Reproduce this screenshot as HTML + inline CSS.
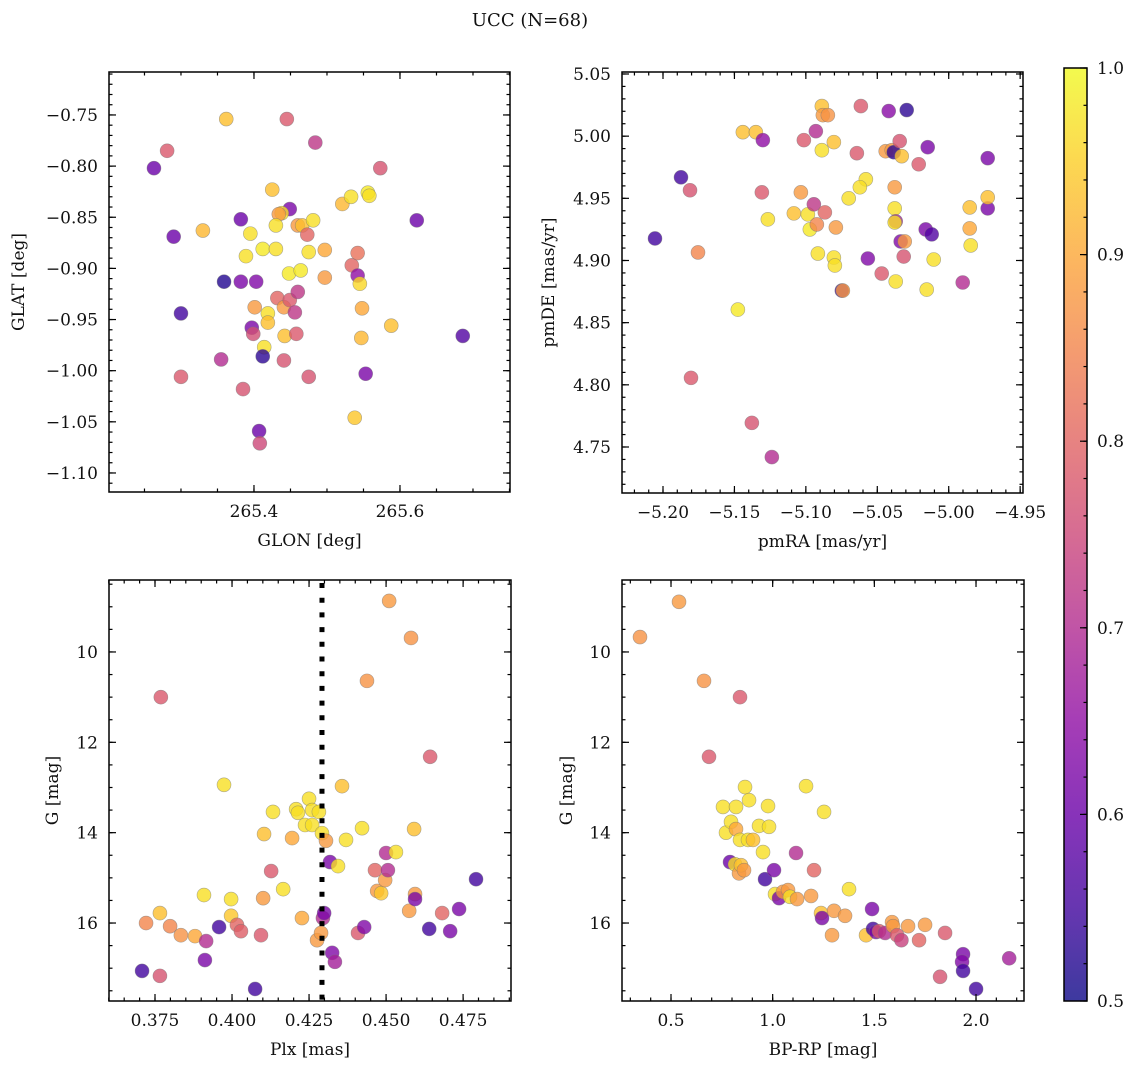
<!DOCTYPE html>
<html><head><meta charset="utf-8"><title>UCC (N=68)</title>
<style>
html,body{margin:0;padding:0;background:#fff;}
svg text{font-family:"DejaVu Serif","Liberation Serif",serif;fill:#111;}
</style></head>
<body>
<svg id="fig" width="1136" height="1068" viewBox="0 0 1136 1068" xmlns="http://www.w3.org/2000/svg">
<text x="530" y="26" font-size="18" text-anchor="middle">UCC (N=68)</text>
</svg>
<script>
// ---- Panel 1: GLON vs GLAT ----
const glon = [265.263,265.281,265.362,265.445,265.484,265.290,265.330,265.382,265.425,265.449,265.438,265.434,265.395,265.412,265.430,265.430,265.460,265.466,265.481,265.473,265.475,265.448,265.464,265.497,265.389,265.359,265.382,265.403,265.300,265.401,265.419,265.419,265.432,265.441,265.449,265.460,265.456,265.442,265.458,265.397,265.399,265.414,265.412,265.355,265.441,265.300,265.385,265.407,265.408,265.475,265.497,265.534,265.542,265.542,265.545,265.548,265.547,265.553,265.538,265.521,265.533,265.556,265.573,265.623,265.588,265.686,265.558];
const glat = [-0.802,-0.785,-0.754,-0.754,-0.777,-0.869,-0.863,-0.852,-0.823,-0.842,-0.846,-0.847,-0.866,-0.881,-0.881,-0.858,-0.858,-0.858,-0.853,-0.867,-0.884,-0.905,-0.902,-0.909,-0.888,-0.913,-0.913,-0.913,-0.944,-0.938,-0.944,-0.953,-0.929,-0.938,-0.931,-0.923,-0.943,-0.966,-0.964,-0.958,-0.964,-0.977,-0.986,-0.989,-0.990,-1.006,-1.018,-1.059,-1.071,-1.006,-0.882,-0.897,-0.885,-0.907,-0.915,-0.939,-0.968,-1.003,-1.046,-0.837,-0.830,-0.826,-0.802,-0.853,-0.956,-0.966,-0.829];
const prob1 = [0.6,0.78,0.93,0.78,0.72,0.6,0.92,0.6,0.93,0.62,0.97,0.88,0.97,0.98,0.97,0.97,0.88,0.93,0.97,0.8,0.97,0.98,0.98,0.88,0.97,0.52,0.62,0.63,0.55,0.88,0.97,0.93,0.8,0.88,0.78,0.72,0.72,0.93,0.78,0.62,0.76,0.97,0.53,0.7,0.77,0.78,0.77,0.6,0.75,0.77,0.9,0.8,0.82,0.65,0.96,0.9,0.92,0.62,0.94,0.92,0.97,0.98,0.77,0.6,0.93,0.57,0.97];

// ---- Panel 2: pmRA vs pmDE ----
const pmra = [-5.2056,-5.1874,-5.1755,-5.1811,-5.1804,-5.1476,-5.1441,-5.135,-5.1301,-5.1308,-5.1266,-5.1378,-5.1238,-5.1084,-5.1035,-5.1014,-5.0986,-5.0972,-5.0944,-5.0923,-5.093,-5.0916,-5.0888,-5.0881,-5.0846,-5.0867,-5.0888,-5.0804,-5.079,-5.0804,-5.0797,-5.0748,-5.0741,-5.07,-5.0615,-5.0643,-5.058,-5.0622,-5.0566,-5.0469,-5.042,-5.0441,-5.0399,-5.0385,-5.0378,-5.0378,-5.0371,-5.0378,-5.0371,-5.0343,-5.0329,-5.0336,-5.0308,-5.0315,-5.0294,-5.021,-5.0161,-5.0147,-5.0154,-5.0119,-5.0105,-4.9902,-4.9853,-4.9853,-4.9846,-4.9727,-4.9727,-4.9727];
const pmde = [4.9177,4.9669,4.9065,4.9565,4.8056,4.8605,5.0032,5.0032,4.9968,4.9548,4.9331,4.7694,4.7419,4.9379,4.9548,4.9968,4.9371,4.925,4.9452,4.929,5.004,4.9056,5.0242,5.0169,5.0169,4.9387,4.9887,4.9952,4.9266,4.9024,4.896,4.8758,4.8758,4.95,5.0242,4.9863,4.9653,4.9589,4.9016,4.8895,5.0202,4.9879,4.9887,4.9871,4.9589,4.9419,4.9315,4.9306,4.8831,4.996,4.9839,4.9153,4.9153,4.9032,5.021,4.9774,4.925,4.9911,4.8766,4.921,4.9008,4.8823,4.9258,4.9427,4.9121,4.9823,4.9419,4.9508];
const prob2 = [0.55,0.55,0.85,0.77,0.78,0.98,0.93,0.93,0.65,0.78,0.97,0.77,0.7,0.93,0.88,0.78,0.97,0.98,0.72,0.85,0.7,0.97,0.93,0.88,0.87,0.8,0.97,0.93,0.88,0.97,0.97,0.55,0.88,0.97,0.78,0.78,0.97,0.97,0.63,0.78,0.64,0.88,0.88,0.53,0.88,0.97,0.68,0.97,0.97,0.77,0.93,0.63,0.88,0.77,0.53,0.78,0.62,0.62,0.97,0.57,0.97,0.7,0.9,0.93,0.97,0.62,0.62,0.93];

// ---- Panel 3: Plx vs G ----
const plx = [0.3708,0.3721,0.3766,0.3766,0.3769,0.3799,0.3834,0.388,0.3909,0.3916,0.3912,0.3958,0.3974,0.3997,0.3997,0.4016,0.4029,0.4075,0.4094,0.4101,0.4104,0.4127,0.4133,0.4166,0.4195,0.4208,0.4214,0.4227,0.4237,0.425,0.426,0.426,0.4282,0.4276,0.4289,0.4292,0.4295,0.4299,0.4305,0.4318,0.4325,0.4334,0.4344,0.4357,0.437,0.4409,0.4422,0.4429,0.4438,0.4464,0.4471,0.4484,0.4497,0.45,0.451,0.4506,0.4532,0.4575,0.4581,0.4591,0.4594,0.4594,0.464,0.4643,0.4682,0.4708,0.4737,0.4792];
const gmag3 = [17.06,16.0,15.78,17.17,11.0,16.07,16.27,16.29,15.38,16.4,16.82,16.09,12.94,15.47,15.84,16.04,16.18,17.46,16.27,15.45,14.03,14.85,13.54,15.25,14.12,13.48,13.56,15.89,13.83,13.25,13.5,13.83,13.54,16.38,16.22,14.01,15.89,15.78,14.18,14.65,16.66,16.86,14.74,12.97,14.16,16.22,13.9,16.09,10.64,14.83,15.29,15.34,15.05,14.45,8.87,14.83,14.43,15.73,9.69,13.92,15.36,15.47,16.13,12.32,15.78,16.18,15.69,15.03];
const prob3 = [0.55,0.85,0.93,0.77,0.78,0.85,0.87,0.9,0.97,0.7,0.62,0.55,0.97,0.97,0.94,0.8,0.79,0.55,0.78,0.88,0.93,0.78,0.97,0.97,0.9,0.97,0.97,0.9,0.97,0.97,0.97,0.97,0.97,0.88,0.88,0.97,0.7,0.62,0.88,0.62,0.63,0.68,0.97,0.93,0.97,0.78,0.97,0.63,0.87,0.8,0.88,0.94,0.88,0.7,0.88,0.7,0.97,0.88,0.87,0.93,0.88,0.62,0.55,0.78,0.8,0.62,0.62,0.55];
const plxRef = [0.4292];

// ---- Panel 4: BP-RP vs G ----
const bprp = [0.3475,0.5394,0.6623,0.6869,0.8394,0.7558,0.7705,0.7902,0.7951,0.8197,0.8197,0.8394,0.8148,0.8345,0.8443,0.8591,0.864,0.8837,0.8788,0.9033,0.9329,0.9525,0.9624,0.9771,0.982,1.0066,1.0116,1.0312,1.0509,1.0755,1.0853,1.1198,1.1149,1.164,1.1888,1.2034,1.2378,1.2526,1.2427,1.2919,1.3018,1.3559,1.3755,1.4592,1.4887,1.4936,1.5084,1.5231,1.5526,1.587,1.592,1.6116,1.6331,1.6658,1.7199,1.7494,1.8232,1.8478,1.9363,1.9314,1.9363,2.0003,2.1631];
const gmag4 = [9.67,8.89,10.64,12.32,11.0,13.43,14.0,14.65,13.76,13.43,13.92,14.16,14.7,14.9,14.72,14.83,12.99,13.28,14.16,14.16,13.85,14.43,15.03,13.41,13.87,14.83,15.36,15.45,15.31,15.27,15.42,15.47,14.45,12.97,15.4,14.83,15.78,13.54,15.89,16.27,15.73,15.84,15.25,16.27,15.69,16.13,16.2,16.18,16.22,15.98,16.07,16.27,16.38,16.07,16.38,16.04,17.19,16.22,16.69,16.86,17.06,17.46,16.78];
const prob4 = [0.87,0.88,0.87,0.78,0.78,0.97,0.97,0.6,0.97,0.97,0.9,0.97,0.97,0.88,0.93,0.88,0.97,0.97,0.97,0.93,0.97,0.97,0.55,0.97,0.97,0.62,0.97,0.62,0.88,0.88,0.97,0.88,0.7,0.97,0.88,0.8,0.93,0.97,0.62,0.88,0.88,0.88,0.97,0.93,0.62,0.55,0.62,0.78,0.7,0.88,0.88,0.78,0.74,0.88,0.8,0.88,0.77,0.78,0.62,0.63,0.55,0.55,0.68];

// ---- Colorbar ----
const cbTicks = [0.5,0.6,0.7,0.8,0.9,1.0];

const NS = "http://www.w3.org/2000/svg";
const svg = document.getElementById('fig');
function el(tag, attrs, parent){
  const e = document.createElementNS(NS, tag);
  for (const k in attrs) e.setAttribute(k, attrs[k]);
  (parent||svg).appendChild(e);
  return e;
}
const plasma = [[13,8,135],[65,4,157],[106,0,168],[143,13,164],[177,42,144],[204,71,120],[225,100,98],[242,132,75],[252,166,54],[252,206,37],[240,249,33]];
function cmap(v){
  let t = (v-0.5)/0.5; t = Math.max(0, Math.min(1, t));
  const f = t*10, i = Math.min(9, Math.floor(f)), r = f-i;
  const a = plasma[i], b = plasma[i+1];
  return 'rgb('+[0,1,2].map(k=>Math.round(a[k]+(b[k]-a[k])*r)).join(',')+')';
}
function fmt(v, d){ const s = Math.abs(v).toFixed(d); return (v < -1e-9 ? '\u2212' : '') + s; }
function range(a, b, s){ const out=[]; const n=Math.round((b-a)/s); for(let i=0;i<=n;i++) out.push(+(a+i*s).toFixed(6)); return out; }

function panel(cfg){
  const g = el('g', {});
  
  
  const {x0,x1,y0,y1} = cfg.box;
  const sx = v => x0 + (v-cfg.xd[0])/(cfg.xd[1]-cfg.xd[0])*(x1-x0);
  const sy = v => cfg.yinv ? y0 + (v-cfg.yd[0])/(cfg.yd[1]-cfg.yd[0])*(y1-y0)
                           : y1 - (v-cfg.yd[0])/(cfg.yd[1]-cfg.yd[0])*(y1-y0);
  const inX = v => { const p=sx(v); return p>=x0-0.5 && p<=x1+0.5; };
  const inY = v => { const p=sy(v); return p>=y0-0.5 && p<=y1+0.5; };
  // points
  const pts = el('g', {}, g);
  
  
  for (let i=0;i<cfg.xs.length;i++){
    const c = el('circle', {cx:sx(cfg.xs[i]), cy:sy(cfg.ys[i]), r:7, fill:cmap(cfg.cs[i]), 'fill-opacity':0.8, stroke:'#777', 'stroke-opacity':0.6, 'stroke-width':0.6}, pts);
    
    
  }
  if (cfg.vline){
    for (const v of cfg.vline){
      const l = el('line', {x1:sx(v), x2:sx(v), y1:y0, y2:y1, stroke:'#000', 'stroke-width':5, 'stroke-dasharray':'5 9.7', 'stroke-dashoffset':-3}, g);
      
      
    }
  }
  // ticks
  const tk = el('g', {stroke:'#000', 'stroke-width':1.2}, g);
  
  
  for (const v of cfg.xminor) if (inX(v)){ const p=sx(v);
    el('line',{x1:p,x2:p,y1:y1,y2:y1-3.5},tk); el('line',{x1:p,x2:p,y1:y0,y2:y0+3.5},tk); }
  for (const v of cfg.xmajor) if (inX(v)){ const p=sx(v);
    el('line',{x1:p,x2:p,y1:y1,y2:y1-7},tk); el('line',{x1:p,x2:p,y1:y0,y2:y0+7},tk); }
  for (const v of cfg.yminor) if (inY(v)){ const p=sy(v);
    el('line',{x1:x0,x2:x0+3.5,y1:p,y2:p},tk); el('line',{x1:x1,x2:x1-3.5,y1:p,y2:p},tk); }
  for (const v of cfg.ymajor) if (inY(v)){ const p=sy(v);
    el('line',{x1:x0,x2:x0+7,y1:p,y2:p},tk); el('line',{x1:x1,x2:x1-7,y1:p,y2:p},tk); }
  // tick labels
  for (const v of cfg.xlabels) if (inX(v)){
    const t = el('text',{x:sx(v), y:y1+25, 'font-size':17, 'text-anchor':'middle'}, g);
    t.textContent = fmt(v, cfg.xdec);
    
    
  }
  for (const v of cfg.ymajor) if (inY(v)){
    const t = el('text',{x:x0-11, y:sy(v)+6, 'font-size':17, 'text-anchor':'end'}, g);
    t.textContent = fmt(v, cfg.ydec);
    
    
  }
  const xt = el('text',{x:(x0+x1)/2, y:y1+54, 'font-size':17, 'text-anchor':'middle'}, g);
  xt.textContent = cfg.xlabel;
  
  
  const yt = el('text',{x:0, y:0, 'font-size':17, 'text-anchor':'middle', transform:'translate('+cfg.ylx+','+((y0+y1)/2)+') rotate(-90)'}, g);
  yt.textContent = cfg.ylabel;
  
  
  const fr = el('rect',{x:x0, y:y0, width:x1-x0, height:y1-y0, fill:'none', stroke:'#000', 'stroke-width':1.5}, g);
  
  
}

panel({name:'glon-glat-panel', box:{x0:109,x1:510,y0:72,y1:492},
  xd:[265.2014,265.7507], yd:[-1.1186,-0.708], yinv:false,
  xs:glon, ys:glat, cs:prob1,
  xmajor:[265.4,265.6], xlabels:[265.4,265.6], xminor:range(265.2,265.75,0.05), xdec:1,
  ymajor:range(-1.10,-0.75,0.05), yminor:range(-1.12,-0.70,0.01), ydec:2,
  xlabel:'GLON [deg]', ylabel:'GLAT [deg]', ylx:24});

panel({name:'pm-panel', box:{x0:622,x1:1023,y0:72,y1:493},
  xd:[-5.2287,-4.948], yd:[4.713,5.0516], yinv:false,
  xs:pmra, ys:pmde, cs:prob2,
  xmajor:range(-5.20,-4.95,0.05), xlabels:range(-5.20,-4.95,0.05), xminor:range(-5.23,-4.95,0.01), xdec:2,
  ymajor:range(4.75,5.05,0.05), yminor:range(4.71,5.05,0.01), ydec:2,
  xlabel:'pmRA [mas/yr]', ylabel:'pmDE [mas/yr]', ylx:554});

panel({name:'plx-g-panel', box:{x0:109,x1:511,y0:580,y1:1001},
  xd:[0.36007,0.49055], yd:[8.407,17.726], yinv:true,
  xs:plx, ys:gmag3, cs:prob3, vline:plxRef,
  xmajor:range(0.375,0.475,0.025), xlabels:range(0.375,0.475,0.025), xminor:range(0.36,0.49,0.005), xdec:3,
  ymajor:range(10,16,2), yminor:range(8.5,17.5,0.5), ydec:0,
  xlabel:'Plx [mas]', ylabel:'G [mag]', ylx:58});

panel({name:'cmd-panel', box:{x0:622,x1:1024,y0:580,y1:1001},
  xd:[0.259,2.236], yd:[8.407,17.726], yinv:true,
  xs:bprp, ys:gmag4, cs:prob4,
  xmajor:range(0.5,2.0,0.5), xlabels:range(0.5,2.0,0.5), xminor:range(0.3,2.2,0.1), xdec:1,
  ymajor:range(10,16,2), yminor:range(8.5,17.5,0.5), ydec:0,
  xlabel:'BP-RP [mag]', ylabel:'G [mag]', ylx:572});

// colorbar
(function(){
  const x0=1064, x1=1087, y0=68, y1=1001;
  const cb = el('g', {});
  
  
  const defs = el('defs', {}, cb);
  const lg = el('linearGradient', {id:'cbg', x1:0, y1:1, x2:0, y2:0}, defs);
  for (let i=0;i<=50;i++){ el('stop', {offset:(i/50), 'stop-color':cmap(0.5+0.5*i/50)}, lg); }
  const r = el('rect', {x:x0, y:y0, width:x1-x0, height:y1-y0, fill:'url(#cbg)', 'fill-opacity':0.8}, cb);
  
  
  const sy = v => y1 - (v-0.5)/0.5*(y1-y0);
  for (const v of range(0.5,1.0,0.02)) el('line', {x1:x1, x2:x1-3.5, y1:sy(v), y2:sy(v), stroke:'#000', 'stroke-width':1.2}, cb);
  for (const v of cbTicks){
    el('line', {x1:x1, x2:x1-7, y1:sy(v), y2:sy(v), stroke:'#000', 'stroke-width':1.2}, cb);
    const t = el('text', {x:x1+10, y:sy(v)+6, 'font-size':17}, cb);
    t.textContent = v.toFixed(1);
    
    
  }
  el('rect', {x:x0, y:y0, width:x1-x0, height:y1-y0, fill:'none', stroke:'#000', 'stroke-width':1.5}, cb);
})();
</script>
</body></html>
